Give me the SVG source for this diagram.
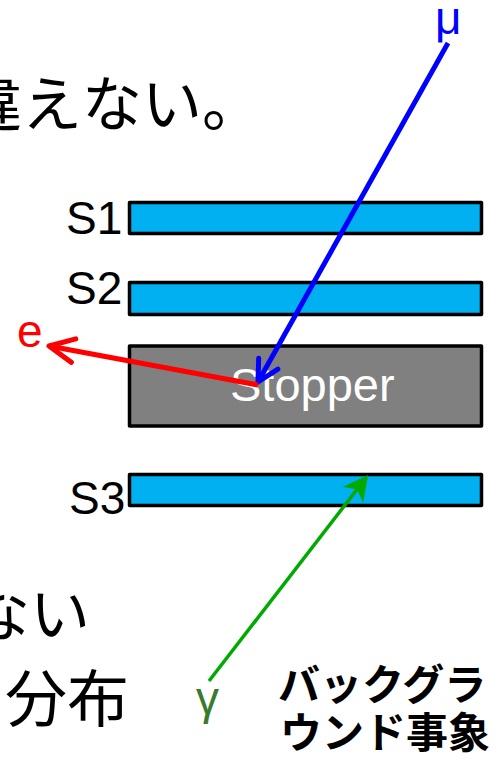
<svg xmlns="http://www.w3.org/2000/svg" width="497" height="760" viewBox="0 0 497 760">
  <style>
    .bar { fill: #00b0f0; stroke: #000; stroke-width: 3.5; stroke-linejoin: round; }
    .stop { fill: #808080; stroke: #000; stroke-width: 3.5; stroke-linejoin: round; }
    .lbl { font-family: "Liberation Sans", Arial, sans-serif; font-size: 46px; fill: #000; }
    .jp { font-family: "Noto Sans CJK JP", "Noto Sans", sans-serif; font-size: 60px; fill: #000; }
    .jpb { font-family: "Noto Sans CJK JP", "Noto Sans", sans-serif; font-size: 42px; font-weight: 700; fill: #000; }
  </style>
  <defs>
    <marker id="arrBlue" markerUnits="userSpaceOnUse" orient="auto" refX="0" refY="0" markerWidth="40" markerHeight="40" overflow="visible">
      <path d="M-21,-11 L0,0 L-21,11" fill="none" stroke="#0000ff" stroke-width="5" stroke-linecap="round" stroke-linejoin="round"/>
    </marker>
    <marker id="arrRed" markerUnits="userSpaceOnUse" orient="auto" refX="0" refY="0" markerWidth="40" markerHeight="40" overflow="visible">
      <path d="M-25,-12 L0,0 L-25,12" fill="none" stroke="#ff0000" stroke-width="5" stroke-linecap="round" stroke-linejoin="round"/>
    </marker>
    <marker id="arrGreen" markerUnits="userSpaceOnUse" orient="auto" refX="-10" refY="0" markerWidth="40" markerHeight="40" overflow="visible">
      <path d="M0,0 L-25,-13 L-18,0 L-25,13 Z" fill="#00aa00" stroke="none"/>
    </marker>
  </defs>

  <!-- background texts -->
  <text class="jp" x="-38" y="126">違えない。</text>
  <text class="jp" x="-30" y="636">ない</text>
  <text class="jp" x="5" y="722" style="font-size:62px">分布</text>

  <g id="S1">
    <rect class="bar" x="129.5" y="202.5" width="352" height="31"/>
    <text class="lbl" x="66" y="234">S1</text>
  </g>
  <g id="S2">
    <rect class="bar" x="129.5" y="282.5" width="352" height="32"/>
    <text class="lbl" x="66" y="304">S2</text>
  </g>
  <g id="Stopper">
    <rect class="stop" x="129.5" y="346" width="352" height="80"/>
    <text class="lbl" x="230" y="401" style="font-size:47px;fill:#fff">Stopper</text>
  </g>
  <g id="S3">
    <rect class="bar" x="129.5" y="474.5" width="352" height="31"/>
    <text class="lbl" x="69" y="514">S3</text>
  </g>

  <g id="mu">
    <text x="435" y="34" font-family="Liberation Sans, Arial, sans-serif" font-size="46" fill="#0000ff">μ</text>
  </g>
  <g id="e">
    <text x="17" y="347" font-family="Liberation Sans, Arial, sans-serif" font-size="46" fill="#ff0000">e</text>
  </g>
  <g id="gamma">
    <text x="196" y="714" font-family="Liberation Sans, Arial, sans-serif" font-size="46" fill="#3a7a2e">γ</text>
  </g>
  <g id="bg-label">
    <text class="jpb" x="278" y="700">バックグラ</text>
    <text class="jpb" x="280" y="748">ウンド事象</text>
  </g>

  <g id="connectors">
    <line x1="448" y1="43" x2="258" y2="382" stroke="#0000ff" stroke-width="5" marker-end="url(#arrBlue)"/>
    <line x1="258" y1="385" x2="49" y2="346" stroke="#ff0000" stroke-width="5" marker-end="url(#arrRed)"/>
    <line x1="209" y1="681" x2="362" y2="483" stroke="#00aa00" stroke-width="3.5" marker-end="url(#arrGreen)"/>
  </g>
</svg>
